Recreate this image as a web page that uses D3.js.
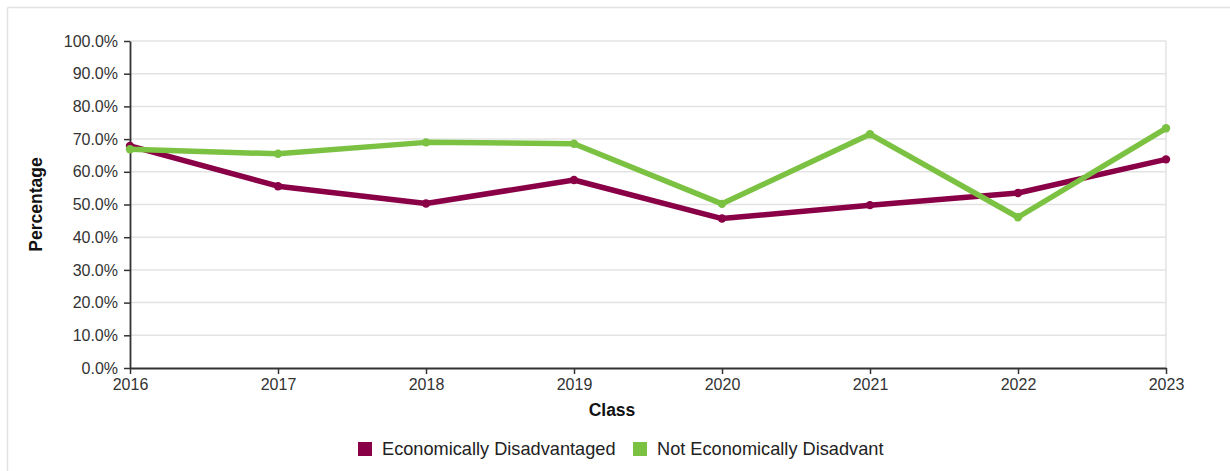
<!DOCTYPE html>
<html><head><meta charset="utf-8">
<script src="https://cdn.jsdelivr.net/npm/d3@7"></script>
<style>body{margin:0;background:#fff;font-family:"Liberation Sans",Arial,sans-serif;}</style>
</head><body><svg id="c" width="1230" height="471"></svg>
<script>
const years = [2016, 2017, 2018, 2019, 2020, 2021, 2022, 2023];
const econDis = [67.9, 55.6, 50.3, 57.5, 45.7, 49.8, 53.5, 63.8];
const notEconDis = [66.9, 65.5, 69.0, 68.6, 50.2, 71.5, 46.1, 73.3];
const yTicks = [0, 10, 20, 30, 40, 50, 60, 70, 80, 90, 100];
const seriesNames = ["Economically Disadvantaged", "Not Economically Disadvant"];
const colors = ["#8a0047", "#7cc242"];

const svg = d3.select("#c");
const L = 130, R = 1166, T = 41, B = 368;
const x = d3.scaleLinear().domain([2016, 2023]).range([L, R]);
const y = d3.scaleLinear().domain([0, 100]).range([B, T]);

// outer frame
svg.append("line").attr("x1", 7.5).attr("x2", 1230).attr("y1", 7.5).attr("y2", 7.5).attr("stroke", "#e2e2e2").attr("stroke-width", 1.5);
svg.append("line").attr("x1", 7.5).attr("x2", 7.5).attr("y1", 7.5).attr("y2", 471).attr("stroke", "#e2e2e2").attr("stroke-width", 1.5);

// grid
svg.append("g").selectAll("line").data(yTicks.filter(d => d > 0)).join("line")
  .attr("x1", L).attr("x2", R).attr("y1", d => y(d)).attr("y2", d => y(d))
  .attr("stroke", "#e3e3e3").attr("stroke-width", 1.5);
svg.append("line").attr("x1", R).attr("x2", R).attr("y1", T).attr("y2", B).attr("stroke", "#e3e3e3").attr("stroke-width", 1.5);

// axes
const yAxis = svg.append("g").attr("transform", `translate(${L},0)`)
  .call(d3.axisLeft(y).tickValues(yTicks).tickFormat(d => d.toFixed(1) + "%").tickSize(6).tickSizeOuter(0));
const xAxis = svg.append("g").attr("transform", `translate(0,${B})`)
  .call(d3.axisBottom(x).tickValues(years).tickFormat(d3.format("d")).tickSize(6).tickSizeOuter(0));
[yAxis, xAxis].forEach(g => {
  g.selectAll(".domain").attr("stroke", "#333").attr("stroke-width", 1.8);
  g.selectAll(".tick line").attr("stroke", "#333").attr("stroke-width", 1.5);
  g.selectAll("text").attr("fill", "#333").attr("font-size", 16).attr("font-family", "Liberation Sans, Arial, sans-serif");
});
yAxis.selectAll("text").attr("x", -12);
xAxis.selectAll("text").attr("y", 11);

// axis titles
svg.append("text").attr("transform", `translate(42,${(T + B) / 2}) rotate(-90)`)
  .attr("text-anchor", "middle").attr("font-weight", "bold").attr("font-size", 17.5).attr("fill", "#111").text("Percentage");
svg.append("text").attr("x", 612).attr("y", 416)
  .attr("text-anchor", "middle").attr("font-weight", "bold").attr("font-size", 17.5).attr("fill", "#111").text("Class");

// lines
const data = [econDis, notEconDis];
const line = d3.line().x((d, i) => x(years[i])).y(d => y(d));
data.forEach((s, k) => {
  svg.append("path").datum(s).attr("d", line).attr("fill", "none")
    .attr("stroke", colors[k]).attr("stroke-width", 5.5).attr("stroke-linejoin", "round");
  svg.append("g").selectAll("circle").data(s).join("circle")
    .attr("cx", (d, i) => x(years[i])).attr("cy", d => y(d)).attr("r", 4.2).attr("fill", colors[k]);
});

// legend
const legX = [358, 633];
seriesNames.forEach((n, k) => {
  svg.append("rect").attr("x", legX[k]).attr("y", 442).attr("width", 14).attr("height", 14).attr("fill", colors[k]);
  svg.append("text").attr("x", legX[k] + 24).attr("y", 455).attr("font-size", 18.2).attr("fill", "#222").text(n);
});
</script></body></html>
